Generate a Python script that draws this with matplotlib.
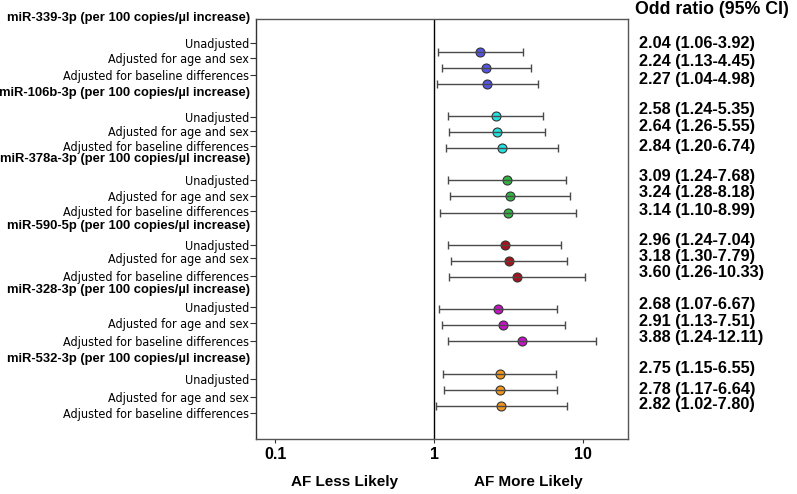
import numpy as np
import matplotlib
matplotlib.use("Agg")
import matplotlib.pyplot as plt
from matplotlib import font_manager
from matplotlib.transforms import blended_transform_factory, offset_copy

# ---------------- data ----------------
groups = ["miR-339-3p (per 100 copies/\u00b5l increase)",
          "miR-106b-3p (per 100 copies/\u00b5l increase)",
          "miR-378a-3p (per 100 copies/\u00b5l increase)",
          "miR-590-5p (per 100 copies/\u00b5l increase)",
          "miR-328-3p (per 100 copies/\u00b5l increase)",
          "miR-532-3p (per 100 copies/\u00b5l increase)"]
models = ["Unadjusted", "Adjusted for age and sex", "Adjusted for baseline differences"]

or_339 = [2.04, 2.24, 2.27]; lo_339 = [1.06, 1.13, 1.04]; hi_339 = [3.92, 4.45, 4.98]
or_106 = [2.58, 2.64, 2.84]; lo_106 = [1.24, 1.26, 1.20]; hi_106 = [5.35, 5.55, 6.74]
or_378 = [3.09, 3.24, 3.14]; lo_378 = [1.24, 1.28, 1.10]; hi_378 = [7.68, 8.18, 8.99]
or_590 = [2.96, 3.18, 3.60]; lo_590 = [1.24, 1.30, 1.26]; hi_590 = [7.04, 7.79, 10.33]
or_328 = [2.68, 2.91, 3.88]; lo_328 = [1.07, 1.13, 1.24]; hi_328 = [6.67, 7.51, 12.11]
or_532 = [2.75, 2.78, 2.82]; lo_532 = [1.15, 1.17, 1.02]; hi_532 = [6.55, 6.64, 7.80]

ors = [or_339, or_106, or_378, or_590, or_328, or_532]
los = [lo_339, lo_106, lo_378, lo_590, lo_328, lo_532]
his = [hi_339, hi_106, hi_378, hi_590, hi_328, hi_532]
colors = ["#5454e2", "#22e2e2", "#33b343", "#a2141a", "#c414c4", "#f0961e"]

xticks = [0.1, 1, 10]
xticklabels = ["0.1", "1", "10"]

# ---------------- layout (in row units) ----------------
HEADER_Y = [-2.09, 2.57, 6.69, 10.83, 14.8, 19.09]
LABEL_Y = [[-0.56, 0.39, 1.45], [4.03, 4.93, 5.84], [7.97, 8.94, 9.89],
           [12.0, 12.81, 13.91], [15.86, 16.85, 17.95], [20.35, 21.43, 22.44]]
TEXT_Y = [[-0.52, 0.62, 1.76], [3.62, 4.66, 5.9], [7.78, 8.78, 9.84],
          [11.74, 12.73, 13.73], [15.73, 16.77, 17.76], [19.66, 20.97, 21.94]]

plt.rcParams['font.family'] = ['Liberation Sans', 'DejaVu Sans']

# look for a condensed / narrow face
def find_narrow(bold):
    best = None
    for f in font_manager.fontManager.ttflist:
        isnarrow = ('Narrow' in f.name or 'Condensed' in f.name or
                    str(f.stretch) in ('condensed', 'semi-condensed', '300', '400'))
        if not isnarrow:
            continue
        w = f.weight if isinstance(f.weight, int) else (700 if 'bold' in str(f.weight) else 400)
        if (w >= 600) != bold or f.style != 'normal':
            continue
        rank = 0 if 'Liberation' in f.name else (1 if 'Arial' in f.name else 2)
        if best is None or rank < best[0]:
            best = (rank, f.fname)
    return best[1] if best else None

nreg = find_narrow(False)
if nreg:
    label_fp = font_manager.FontProperties(fname=nreg, size=9.0)
else:
    label_fp = font_manager.FontProperties(family='Liberation Sans', size=9.2)
head_fp = font_manager.FontProperties(family='Liberation Sans', weight='bold', size=9.4)

fig = plt.figure(figsize=(7.97, 4.94), dpi=100)
ax = fig.add_axes([256/797, 55/494, 372/797, 420/494])

# piecewise log scale (left decade slightly wider, as in the original)
LEFT = 159/149
def fwd(x):
    x = np.asarray(x, dtype=float)
    with np.errstate(divide='ignore', invalid='ignore'):
        l = np.log10(np.where(x > 0, x, 1e-300))
    return np.where(l < 0, l*LEFT, l)
def inv(y):
    y = np.asarray(y, dtype=float)
    return np.where(y < 0, 10**(y/LEFT), 10**y)
ax.set_xscale('function', functions=(fwd, inv))
ax.set_xlim(0.0756, 19.95)
ax.set_ylim(24.07, -2.03)

ax.axvline(1, color="black", lw=1, zorder=1)

for g in range(len(groups)):
    ys = np.arange(3) + 4*g
    o = np.array(ors[g]); lo = np.array(los[g]); hi = np.array(his[g])
    ax.scatter(o, ys, s=42, color=colors[g], edgecolor="#333333", linewidths=0.8, zorder=2)
    ax.errorbar(o, ys, xerr=[o - lo, hi - o], fmt='none', ecolor="#4a4a4a",
                elinewidth=1, capsize=3, capthick=1, zorder=3)
    for k in range(3):
        ax.text(1.0296, TEXT_Y[g][k], f"{o[k]:.2f} ({lo[k]:.2f}-{hi[k]:.2f})",
                transform=blended_transform_factory(ax.transAxes, ax.transData),
                ha="left", va="center", fontsize=11.7, fontweight="bold", clip_on=False)
    htrans = offset_copy(blended_transform_factory(ax.transAxes, ax.transData),
                         fig=fig, x=-6, y=0, units='dots')
    ax.text(0, HEADER_Y[g], groups[g], transform=htrans, ha="right", va="center",
            fontproperties=head_fp, clip_on=False)

ax.set_yticks([y for row in LABEL_Y for y in row])
ax.set_yticklabels(models*len(groups), fontproperties=label_fp)
ax.tick_params(axis='y', length=4, width=0.8, pad=1, color="#333333")
ax.minorticks_off()
ax.set_xticks(xticks)
ax.set_xticklabels(xticklabels, fontsize=11.5, fontweight="bold")
ax.xaxis.set_minor_locator(matplotlib.ticker.NullLocator())
ax.tick_params(axis='x', length=3, width=0.8, pad=3, color="#333333")

for s in ax.spines.values():
    s.set_color("#555555"); s.set_linewidth(1)
ax.spines['left'].set_color("#333333")

fig.text(635/797, 1 - 9/494, "Odd ratio (95% CI)", ha="left", va="center",
         fontsize=12.8, fontweight="bold")
fig.text(345/797, 1 - 482/494, "AF Less Likely", ha="center", va="center",
         fontsize=11, fontweight="bold")
fig.text(528/797, 1 - 482/494, "AF More Likely", ha="center", va="center",
         fontsize=11, fontweight="bold")

fig.savefig("out.png", dpi=100)
